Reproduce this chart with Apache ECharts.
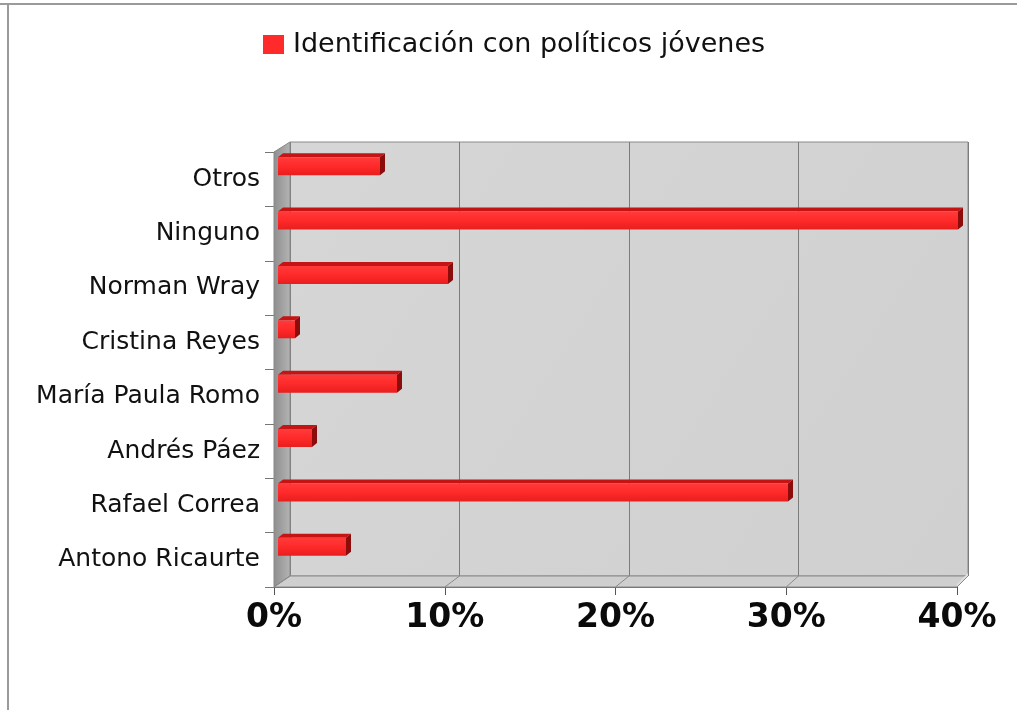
<!DOCTYPE html>
<html>
<head>
<meta charset="utf-8">
<style>html,body{margin:0;padding:0;background:#fff;}#c{width:1017px;height:710px;}</style>
<script src="https://cdn.jsdelivr.net/npm/echarts@6/dist/echarts.min.js"></script>
</head>
<body>
<div id="c"></div>
<script>
const categories = ['Otros', 'Ninguno', 'Norman Wray', 'Cristina Reyes', 'María Paula Romo', 'Andrés Páez', 'Rafael Correa', 'Antono Ricaurte'];
const values = [6, 40, 10, 1, 7, 2, 30, 4];
const xTicks = [0, 10, 20, 30, 40];
const seriesName = 'Identificación con políticos jóvenes';

// decoration geometry (front/back planes of the pseudo-3D box)
const F = {l: 274, r: 957, t: 152, b: 587};
const B = {l: 290, r: 968, t: 142, b: 576};

const chart = echarts.init(document.getElementById('c'));

const graphics = [
  {type: 'line', shape: {x1: 0, y1: 4, x2: 1017, y2: 4}, style: {stroke: '#9a9a9a', lineWidth: 2}, z: 1},
  {type: 'line', shape: {x1: 8, y1: 4, x2: 8, y2: 710}, style: {stroke: '#9a9a9a', lineWidth: 2}, z: 1},
  {type: 'polygon', shape: {points: [[F.l, F.t], [B.l, B.t], [B.l, B.b], [F.l, F.b]]},
   style: {fill: new echarts.graphic.LinearGradient(0, 0, 1, 0, [{offset: 0, color: '#8e8e8e'}, {offset: 1, color: '#b4b4b4'}]), stroke: '#888', lineWidth: 1}, z: 1},
  {type: 'polygon', shape: {points: [[F.l, F.b], [B.l, B.b], [B.r, B.b], [F.r, F.b]]},
   style: {fill: '#cfcfcf', stroke: '#8a8a8a', lineWidth: 1}, z: 1},
  {type: 'polygon', shape: {points: [[F.r, F.b], [B.r, B.b], [B.r, B.b - 3], [F.r, F.b - 3]]},
   style: {fill: '#e0e0e0'}, z: 1}
];
xTicks.forEach(function (t) {
  const fx = F.l + (F.r - F.l) * t / 40;
  const bx = B.l + (B.r - B.l) * t / 40;
  graphics.push({type: 'line', shape: {x1: fx, y1: F.b, x2: bx, y2: B.b}, style: {stroke: '#8a8a8a', lineWidth: 1}, z: 1});
});

chart.setOption({
  backgroundColor: '#ffffff',
  animation: false,
  legend: {
    top: 26, left: 258,
    itemWidth: 21, itemHeight: 19, itemGap: 8,
    icon: 'rect',
    data: [{name: seriesName, itemStyle: {color: '#ff2a2a'}}],
    textStyle: {fontFamily: 'DejaVu Sans', fontSize: 27, color: '#111', padding: [0, 0, 0, 4]}
  },
  grid: [
    {left: B.l, right: 1017 - B.r, top: B.t, bottom: 710 - B.b, show: true,
     backgroundColor: new echarts.graphic.LinearGradient(0, 0, 1, 1, [{offset: 0, color: '#d6d6d6'}, {offset: 1, color: '#d0d0d0'}]),
     borderColor: '#8a8a8a', borderWidth: 1},
    {left: F.l, right: 1017 - F.r, top: F.t, bottom: 710 - F.b},
    {left: 278, right: 59, top: 139, bottom: 136}
  ],
  xAxis: [
    {gridIndex: 0, type: 'value', min: 0, max: 40, interval: 10,
     axisLabel: {show: false}, axisTick: {show: false}, axisLine: {show: false},
     splitLine: {lineStyle: {color: '#7c7c7c', width: 1}}},
    {gridIndex: 1, type: 'value', min: 0, max: 40, interval: 10,
     axisLabel: {formatter: '{value}%', fontFamily: 'DejaVu Sans', fontWeight: 'bold', fontSize: 33, color: '#0a0a0a', margin: 15},
     axisTick: {show: true, length: 8, lineStyle: {color: '#555'}},
     axisLine: {show: true, lineStyle: {color: '#666'}},
     splitLine: {show: false}},
    {gridIndex: 2, type: 'value', min: 0, max: 40, show: false, splitLine: {show: false}}
  ],
  yAxis: [
    {gridIndex: 0, type: 'category', data: categories, inverse: true, show: false},
    {gridIndex: 1, type: 'category', data: categories, inverse: true,
     axisLabel: {fontFamily: 'DejaVu Sans', fontSize: 25, color: '#111', margin: 14, padding: [10, 0, 0, 0]},
     axisTick: {show: true, length: 9, lineStyle: {color: '#777'}},
     axisLine: {show: true, lineStyle: {color: '#777'}}},
    {gridIndex: 2, type: 'category', data: categories, inverse: true, show: false}
  ],
  series: [{
    name: seriesName,
    type: 'custom',
    xAxisIndex: 2, yAxisIndex: 2,
    z: 5,
    itemStyle: {color: '#ff2a2a'},
    encode: {x: 0, y: 1},
    data: values.map(function (v, i) { return [v, i]; }),
    renderItem: function (params, api) {
      const end = api.coord([api.value(0), api.value(1)]);
      const start = api.coord([0, api.value(1)]);
      const h = 18, dx = 5, dy = -4;
      const x0 = start[0], x1 = end[0], yt = end[1] - h / 2, yb = end[1] + h / 2;
      return {type: 'group', children: [
        {type: 'polygon', shape: {points: [[x0, yt], [x0 + dx, yt + dy], [x1 + dx, yt + dy], [x1, yt]]},
         style: {fill: '#c41414'}},
        {type: 'polygon', shape: {points: [[x1, yt], [x1 + dx, yt + dy], [x1 + dx, yb + dy], [x1, yb]]},
         style: {fill: '#8c0c0c'}},
        {type: 'rect', shape: {x: x0, y: yt, width: x1 - x0, height: h},
         style: {fill: new echarts.graphic.LinearGradient(0, 0, 0, 1, [{offset: 0, color: '#ff3a3a'}, {offset: 0.5, color: '#ff2a2a'}, {offset: 1, color: '#e81e1e'}])}}
      ]};
    }
  }],
  graphic: graphics
});
</script>
</body>
</html>
